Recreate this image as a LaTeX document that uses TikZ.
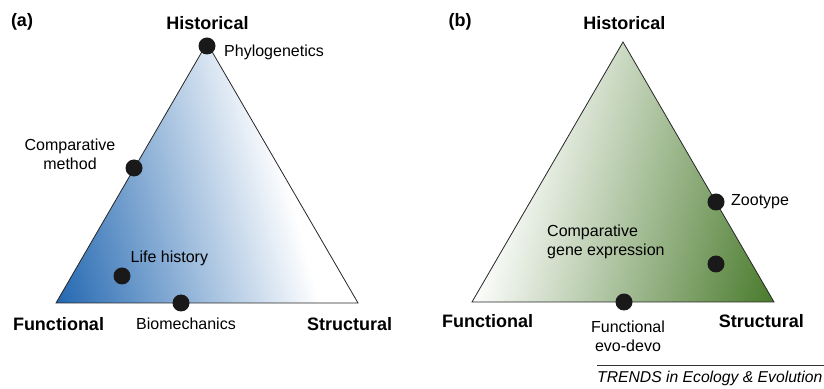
\documentclass[tikz,border=0pt]{standalone}
\usepackage{fontspec}
\setmainfont{Liberation Sans}
\usepackage{xcolor}
\usetikzlibrary{calc}
\definecolor{TRblue}{RGB}{30,100,175}
\definecolor{TRgreen}{RGB}{70,120,40}
\newcommand{\lblfont}{\fontsize{16}{19}\selectfont}
\newcommand{\capfont}{\fontsize{18}{21}\selectfont\bfseries}

\begin{document}
\begin{tikzpicture}[x=1pt, y=1pt,
    dot/.style={circle, fill=black!90, inner sep=0pt, minimum size=17pt},
    lbl/.style={inner sep=0pt, font=\lblfont},
    corner/.style={inner sep=0pt, font=\capfont},
    edge/.style={line width=0.8pt, black!85}]
  \useasboundingbox (0,0) rectangle (824,388);
  % panel (a)
  \coordinate (aF) at (56,85);
  \coordinate (aS) at (358,85);
  \coordinate (aH) at (207,345);
  \begin{scope}
    \clip (aF) -- (aS) -- (aH) -- cycle;
    \begin{scope}[transform canvas={rotate around={15:(aF)}}]
      \shade[left color=TRblue, middle color=TRblue!40!white, right color=white] ($(aF)+(-5,-300)$) rectangle ($(aF)+(255,400)$);
    \end{scope}
  \end{scope}
  \draw[edge] (aF) -- (aS) -- (aH) -- cycle;
  \node[corner] (apanel) at (22,366) {(a)};
  \node[corner] (aHist) at (207.5,365) {Historical};
  \node[corner] (aFunc) at (58.5,64) {Functional};
  \node[corner] (aStruc) at (349.7,64) {Structural};
  \foreach \n/\p in {phylo/{207,342}, compmeth/{134,220}, lifehist/{122,112}, biomech/{181,85}}
    \node[dot] (\n) at (\p) {};
  \node[lbl, anchor=west] (phyloL) at (224,336) {Phylogenetics};
  \node[lbl, align=center] (compmethL) at (70,234) {Comparative\\method};
  \node[lbl, anchor=west] (lifehistL) at (130.5,130) {Life history};
  \node[lbl] (biomechL) at (186,64) {Biomechanics};
  % panel (b)
  \coordinate (bF) at (472,86);
  \coordinate (bS) at (774,86);
  \coordinate (bH) at (623,346);
  \begin{scope}
    \clip (bF) -- (bS) -- (bH) -- cycle;
    \begin{scope}[transform canvas={rotate around={-15:(bS)}}]
      \shade[left color=white, middle color=TRgreen!42!white, right color=TRgreen] ($(bS)+(-295,-300)$) rectangle ($(bS)+(5,400)$);
    \end{scope}
  \end{scope}
  \draw[edge] (bF) -- (bS) -- (bH) -- cycle;
  \node[corner] (bpanel) at (460,366) {(b)};
  \node[corner] (bHist) at (624.3,365) {Historical};
  \node[corner] (bFunc) at (487.5,67) {Functional};
  \node[corner] (bStruc) at (761.3,67) {Structural};
  \foreach \n/\p in {zootype/{716,186}, lowdot/{716,124}, evodevo/{624,86}}
    \node[dot] (\n) at (\p) {};
  \node[lbl, anchor=west] (zootypeL) at (731,186) {Zootype};
  \node[lbl, anchor=west, align=left] (geneexpL) at (547,146) {Comparative\\gene expression};
  \node[lbl, align=center] (evodevoL) at (628,52) {Functional\\evo-devo};
  % journal line
  \coordinate (jl) at (597,23);
  \coordinate (jr) at (824,23);
  \draw[line width=0.6pt, black!80] (jl) -- (jr);
  \node[lbl, anchor=west, font=\fontsize{15.7}{18}\selectfont\itshape] (journal) at (597,10) {TRENDS in Ecology \& Evolution};
\end{tikzpicture}
\end{document}
